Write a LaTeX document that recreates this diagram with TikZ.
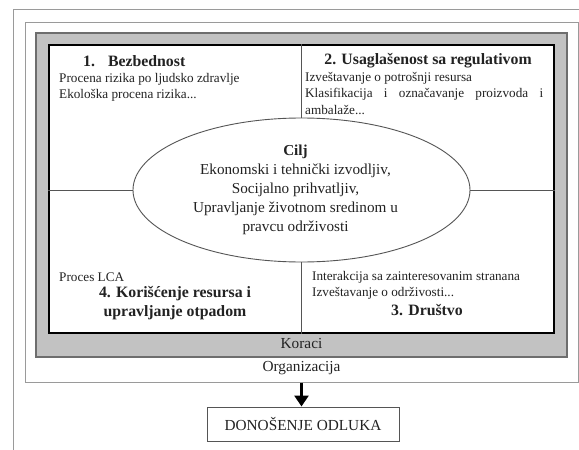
\documentclass[tikz,border=0pt]{standalone}
\usepackage{fontspec}
\setmainfont{Liberation Serif}
\usetikzlibrary{shapes.geometric,arrows.meta}

\definecolor{framegray}{HTML}{9A9A9A}
\definecolor{bandgray}{HTML}{C2C2C2}
\definecolor{bandedge}{HTML}{6E6E6E}
\definecolor{inkgray}{HTML}{222222}
\definecolor{divgray}{HTML}{555555}

\tikzset{
  smalltext/.style={font=\fontsize{13.2}{16}\selectfont, text=inkgray, anchor=west, inner sep=0pt},
  headtext/.style={font=\fontsize{15.8}{19}\selectfont\bfseries, text=inkgray, inner sep=0pt, align=center},
  labeltext/.style={font=\fontsize{15.3}{18}\selectfont, text=inkgray, inner sep=0pt},
  boxnode/.style={rectangle, inner sep=0pt},
}

\begin{document}
\begin{tikzpicture}[x=1pt, y=-1pt]
\useasboundingbox (0,0) rectangle (579,450);

% outermost page frame (open to the right and bottom)
\draw[framegray, line width=1pt] (13,450) -- (13,9) -- (579,9);

% organisation frame
\node[boxnode, draw=framegray, line width=1pt, minimum width=553pt, minimum height=360pt] (org) at (301.5,202) {};
% grey band of the steps
\node[boxnode, draw=bandedge, fill=bandgray, line width=1.1pt, minimum width=531pt, minimum height=324pt] (band) at (301.5,195) {};
% white field with the four quadrants
\node[boxnode, draw=black, fill=white, line width=1.6pt, minimum width=505pt, minimum height=288pt] (steps) at (301.5,189) {};

% central goal
\node[ellipse, draw=divgray, line width=0.9pt, minimum width=337pt, minimum height=144pt, inner sep=0pt] (goal) at (301.5,190) {};
\node[font=\fontsize{15.2}{19}\selectfont, text=inkgray, align=center, inner sep=0pt] (goaltext) at (295.5,190)
  {\textbf{Cilj}\\Ekonomski i tehnički izvodljiv,\\Socijalno prihvatljiv,\\Upravljanje životnom sredinom u\\pravcu održivosti};

% quadrant dividers
\draw[divgray, line width=1pt] (goal.north |- steps.north) -- (goal.north);
\draw[divgray, line width=1pt] (goal.south) -- (goal.south |- steps.south);
\draw[divgray, line width=1pt] (steps.west |- goal.west) -- (goal.west);
\draw[divgray, line width=1pt] (goal.east) -- (goal.east -| steps.east);

% quadrant 1
\node[headtext, anchor=west] (q1head) at (83,61) {1.\hspace{13pt}Bezbednost};
\node[smalltext] (q1a) at (59,79) {Procena rizika po ljudsko zdravlje};
\node[smalltext] (q1b) at (59,95) {Ekološka procena rizika...};

% quadrant 2
\node[headtext] (q2head) at (428,61) {2. Usaglašenost sa regulativom};
\node[smalltext] (q2a) at (305,78) {Izveštavanje o potrošnji resursa};
\node[smalltext] (q2b) at (305,94) {\makebox[238pt][s]{Klasifikacija i označavanje proizvoda i}};
\node[smalltext] (q2c) at (305,110) {ambalaže...};

% quadrant 4
\node[smalltext] (q4a) at (59,277) {Proces LCA};
\node[headtext] (q4head) at (175,303.5) {4. Korišćenje resursa i\\upravljanje otpadom};

% quadrant 3
\node[smalltext] (q3a) at (312,277) {Interakcija sa zainteresovanim stranana};
\node[smalltext] (q3b) at (312,293) {Izveštavanje o održivosti...};
\node[headtext] (q3head) at (427,310) {3. Društvo};

% frame captions
\node[labeltext] (koraci) at (301.5,344) {Koraci};
\node[labeltext] (organizacija) at (301.5,368) {Organizacija};

% decision box and arrow
\node[boxnode, draw=divgray, line width=1pt, minimum width=192pt, minimum height=34pt, font=\fontsize{15.3}{18}\selectfont, text=inkgray] (decision) at (303,424) {DONOŠENJE ODLUKA};
\draw[black, line width=3pt, -{Triangle[width=14pt,length=11pt]}] (org.south -| 301.5,0) -- (decision.north -| 301.5,0);
\end{tikzpicture}
\end{document}
